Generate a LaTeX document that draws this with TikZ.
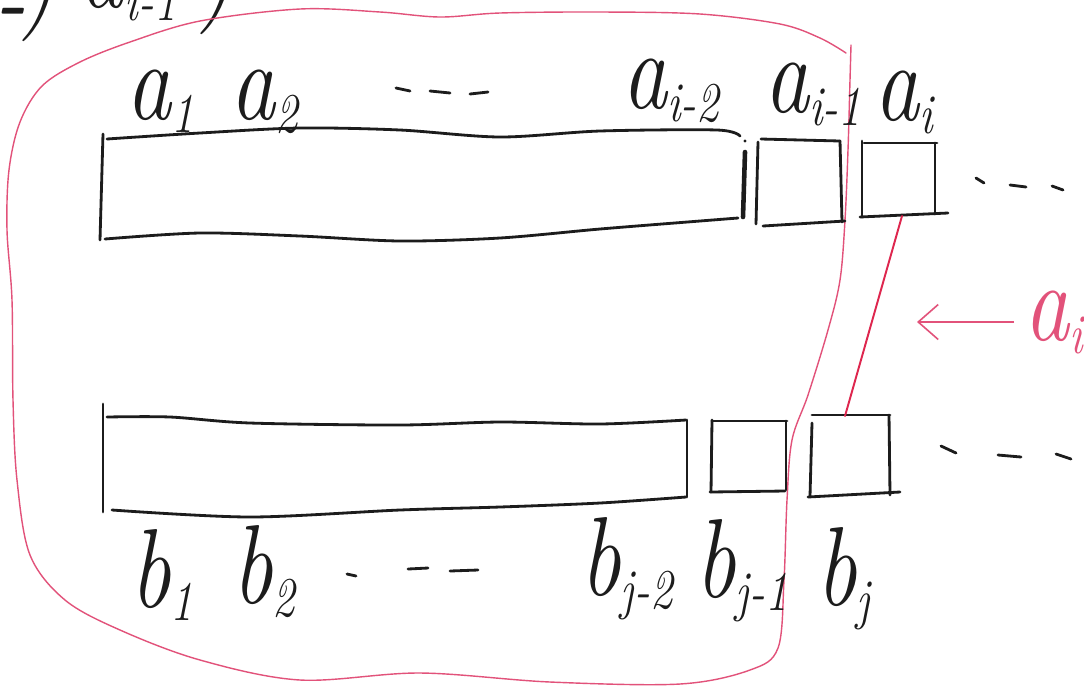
\documentclass[tikz,border=0pt]{standalone}
\usepackage{fontspec}
\usetikzlibrary{arrows.meta}
\definecolor{pen}{RGB}{28,28,28}
\definecolor{redpen}{RGB}{226,82,122}
\definecolor{redink}{RGB}{222,38,78}
\tikzset{
  ink/.style={draw=pen, line width=1.6pt, line cap=round, line join=round},
  heavyink/.style={ink, line width=2.6pt},
  loopline/.style={draw=redpen, line width=0.8pt, line cap=round},
  linkline/.style={draw=redink, line width=1.1pt, line cap=round},
  lbl/.style={text=pen, inner sep=0pt, anchor=base west, font=\fontsize{64}{66}\selectfont\itshape},
  rlbl/.style={lbl, text=redpen},
}
% narrow letter with a lowered index
\newcommand{\idx}[2]{\scalebox{0.8}[1]{#1\raisebox{-0.12em}{\fontsize{32}{34}\selectfont #2}}}
\begin{document}
\begin{tikzpicture}[x=0.02cm,y=-0.02cm]
\useasboundingbox (0,0) rectangle (1084,691);
\clip (0,0) rectangle (1084,691);
\fill[white] (0,0) rectangle (1084,691);

% heading line, only its lower part lies on the sheet
\node[lbl] (head) at (-6,13) {\scalebox{0.8}[1]{\raisebox{-0.2em}{-}\hspace{-0.05em})}\hspace{0.2em}\raisebox{0.05em}{\idx{a}{i-1}}\hspace{0.2em}\raisebox{0.06em}{\scalebox{0.8}[1]{)}}};

% red boundary around the prefixes a_1..a_{i-1}, b_1..b_{j-1}
\draw[loopline] plot[smooth, tension=0.55] coordinates {
  (846,53) (820,38) (780,24) (700,14) (600,12) (500,13) (440,17) (380,12)
  (300,9) (200,21) (130,42) (80,62) (42,86) (20,122) (9,170) (7,230)
  (12,300) (13,400) (17,480) (30,555) (65,600) (120,630) (200,660)
  (300,680) (420,673) (550,682) (680,684) (750,670) (778,648) (784,580)
  (787,500) (792,440) (808,395) (828,330) (840,280) (845,220) (848,150)
  (850,80) (851,45)};

% ---- upper row a ----
\draw[ink] (103,134) -- (100,240);
\draw[ink] plot[smooth] coordinates {(107,139) (200,133) (300,128) (400,130)
  (500,137) (600,131) (717,130) (740,136)};
\draw[ink] plot[smooth] coordinates {(105,239) (200,233) (300,236) (400,241)
  (500,238) (600,229) (700,221) (738,218)};
\draw[heavyink] (745,152) -- (743,217);
\fill[pen] (745,141) circle (1.6);
% cell a_{i-1}
\draw[ink] (758,142) -- (756,224);
\draw[ink] (761,139) -- (840,141);
\draw[ink] (840,141) -- (842,222);
\draw[ink] (763,226) -- (845,221);
% cell a_i
\draw[ink] (862,141) -- (862,217);
\draw[ink] (864,143) -- (937,143);
\draw[ink] (935,143) -- (935,214);
\draw[ink] (860,217) -- (948,213);
\coordinate (ai-foot) at (902,216);
% trailing dashes
\draw[ink] (976,178) -- (984,183);
\draw[ink] (1010,185) -- (1026,187);
\draw[ink] (1052,186) -- (1063,190);

% ---- lower row b ----
\draw[ink] (103,404) -- (103,512);
\draw[ink] plot[smooth] coordinates {(107,417) (170,417) (250,423) (400,425)
  (500,422) (600,424) (686,420)};
\draw[ink] plot[smooth] coordinates {(112,510) (250,517) (400,510) (500,507)
  (600,503) (686,497)};
\draw[ink] (687,420) -- (687,497);
% cell b_{j-1}
\draw[ink] (712,420) -- (711,492);
\draw[ink] (712,421) -- (787,421);
\draw[ink] (786,421) -- (786,490);
\draw[ink] (710,492) -- (785,491);
% cell b_j
\draw[ink] (812,423) -- (810,496);
\draw[ink] (812,415) -- (890,415);
\draw[ink] (889,415) -- (890,495);
\draw[ink] (808,497) -- (900,492);
\coordinate (bj-head) at (845,416);
% trailing dashes
\draw[ink] (941,446) -- (956,453);
\draw[ink] (998,455) -- (1021,457);
\draw[ink] (1056,454) -- (1071,459);

% link from a_i down to b_j
\draw[linkline] (ai-foot) -- (bj-head);

% ---- labels of row a ----
\node[lbl] (la1) at (126,119) {\idx{a}{1}};
\node[lbl] (la2) at (230,119) {\idx{a}{2}};
\draw[ink] (396,88) -- (410,91);
\draw[ink] (430,91) -- (450,93);
\draw[ink] (470,94) -- (488,92);
\node[lbl] (la3) at (622,108) {\idx{a}{i-2}};
\node[lbl] (la4) at (764,112) {\idx{a}{i-1}};
\node[lbl] (la5) at (874,120) {\idx{a}{i}};

% ---- labels of row b ----
\node[lbl] (lb1) at (130,607) {\idx{b}{1}};
\node[lbl] (lb2) at (232,603) {\idx{b}{2}};
\draw[ink] (347,574) -- (356,576);
\draw[ink] (408,569) -- (428,568);
\draw[ink] (450,571) -- (478,570);
\node[lbl] (lb3) at (580,595) {\idx{b}{j-2}};
\node[lbl] (lb4) at (695,597) {\idx{b}{j-1}};
\node[lbl] (lb5) at (816,605) {\idx{b}{j}};

% ---- incoming element a_i ----
\node[rlbl] (ain) at (1024,340) {\idx{a}{i}};
\coordinate (ain-tip) at (917,322);
\draw[draw=redpen, line width=0.9pt, -{Straight Barb[length=4mm,width=7mm]}]
  (ain.west |- ain-tip) ++(-10,0) -- (ain-tip);
\end{tikzpicture}
\end{document}
